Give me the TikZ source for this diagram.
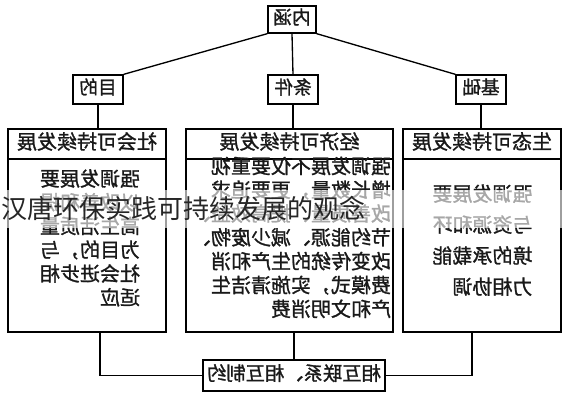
\documentclass[tikz,border=0pt]{standalone}
\usepackage{fontspec}
\usepackage{graphicx}
\usepackage{tikz}
\newfontfamily\cjk{Noto Sans CJK SC}
\newfontfamily\cjkb[FakeBold=1.2]{Noto Sans CJK SC}
\usetikzlibrary{calc}
\tikzset{>=latex}
% mirrored text block, lines set flush left before the flip
\newcommand{\mir}[1]{\reflectbox{\begin{tabular}{@{}l@{}}#1\end{tabular}}}
\tikzset{
	tag/.style={draw=black,line width=1pt,fill=white,inner sep=0pt,
		font=\cjkb\fontsize{14}{16}\selectfont,text=black!90},
	bigbox/.style={draw=black,line width=1pt,inner sep=0pt,
		minimum width=#1,minimum height=152.25pt},
	headbox/.style={draw=black,line width=1pt,inner sep=0pt,
		minimum width=#1,minimum height=22.5pt,
		font=\cjkb\fontsize{15}{17}\selectfont,text=black!90},
	textblk/.style={inner sep=0pt,text=black!90},
	wire/.style={line width=1pt,black}
}
\begin{document}
\begin{tikzpicture}[x=0.75pt,y=-0.75pt]
            \useasboundingbox (0,0) rectangle (576,400);
            \fill[white] (0,0) rectangle (576,400);
            % top row
            \node[tag,minimum width=36pt,minimum height=20.25pt] (top) at (292,19.5) {\mir{内涵}};
            \node[tag,minimum width=37.5pt,minimum height=21.75pt] (goal) at (98,89.5) {\mir{目的}};
            \node[tag,minimum width=37.5pt,minimum height=21.75pt] (cond) at (293,89.5) {\mir{条件}};
            \node[tag,minimum width=37.5pt,minimum height=21.75pt] (base) at (481,89.5) {\mir{基础}};
            % three columns
            \node[bigbox=118.5pt] (soc) at (87,230.5) {};
            \node[bigbox=155.25pt] (eco) at (289.5,230.5) {};
            \node[bigbox=118.5pt] (env) at (482,230.5) {};
            \node[headbox=118.5pt] (soch) at (87,144) {\mir{社会可持续发展}};
            \node[headbox=155.25pt] (ecoh) at (289.5,144) {\mir{经济可持续发展}};
            \node[headbox=118.5pt] (envh) at (482,144) {\mir{生态可持续发展}};
            \node[textblk,font=\cjkb\fontsize{15}{17.25}\selectfont] (socb) at (90,240.5)
                {\mir{强调发展要\\以改善和提\\高生活质量\\为目的，与\\社会进步相\\适应}};
            \node[textblk,font=\cjkb\fontsize{15}{17.25}\selectfont] (ecob) at (291,240)
                {\mir{强调发展不仅要重视\\增长数量，更要追求\\改善质量、提高效益、\\节约能源、减少废物、\\改变传统的生产和消\\费模式，实施清洁生\\产和文明消费}};
            \node[textblk,font=\cjkb\fontsize{15}{23.25}\selectfont] (envb) at (482.5,241.5)
                {\mir{强调发展要\\与资源和环\\境的承载能\\力相协调}};
            % bottom
            \node[tag,minimum width=136.5pt,minimum height=23.25pt,
                  font=\cjkb\fontsize{14.5}{16}\selectfont] (link) at (294,375.5) {\mir{相互联系、相互制约}};
            \draw[wire] (top.south west) -- (goal.north east);
            \draw[wire] (top.south) -- (cond.north);
            \draw[wire] (top.south east) -- (base.north west);
            \draw[wire] (goal.south) -- (goal.south |- soc.north);
            \draw[wire] (cond.south) -- (cond.south |- eco.north);
            \draw[wire] (base.south) -- (base.south |- env.north);
            \draw[wire] ([xshift=9.75pt]soc.south) |- (link.west);
            \draw[wire] (link.north) -- (link.north |- eco.south);
            \draw[wire] ([xshift=-7.5pt]env.south) |- (link.east);
            % overlay band with caption
            \fill[white,opacity=0.62] (0,190) rectangle (576,228);
            \node[inner sep=0pt,anchor=west,text=black!85,
                  font=\cjk\fontsize{19.5}{22}\selectfont] (mark) at (1,208) {汉唐环保实践可持续发展的观念};
        \end{tikzpicture}
\end{document}
